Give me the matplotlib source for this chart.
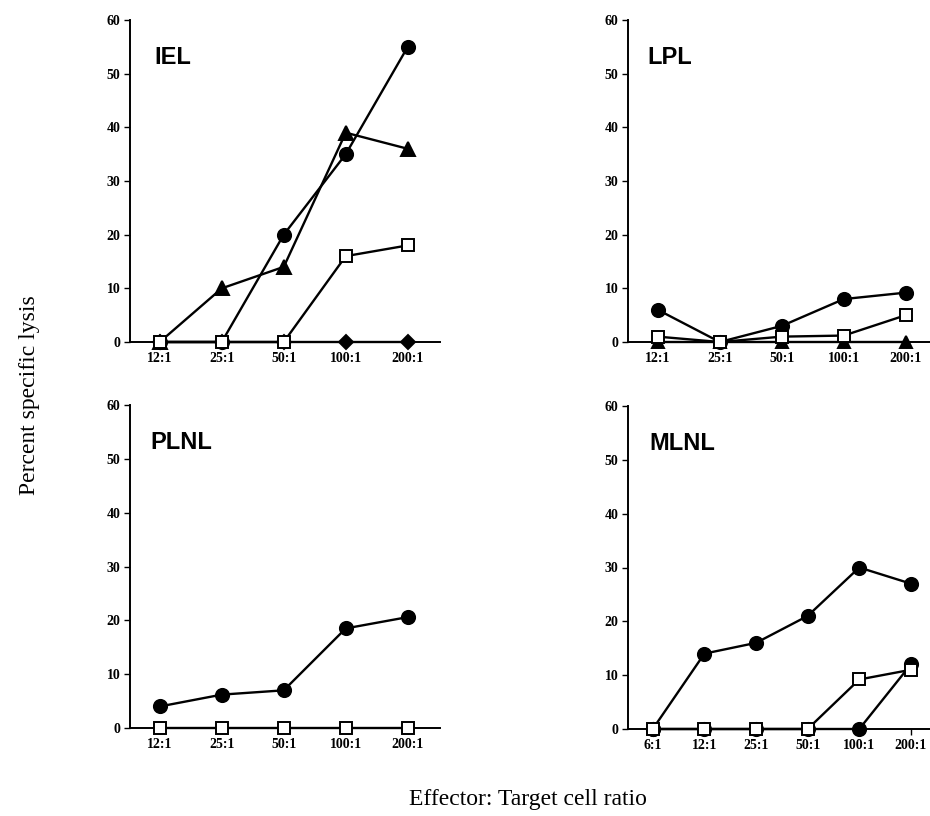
import matplotlib.pyplot as plt

# ratios on x axis
ratios = ['12:1', '25:1', '50:1', '100:1', '200:1']
ratios_mlnl = ['6:1', '12:1', '25:1', '50:1', '100:1', '200:1']

# IEL
iel_circle = [0, 0, 20, 35, 55]
iel_triangle = [0, 10, 14, 39, 36]
iel_square = [0, 0, 0, 16, 18]
iel_diamond = [0, 0, 0, 0, 0]

# LPL
lpl_circle = [6, 0, 3, 8, 9.2]
lpl_square = [1, 0, 1, 1.2, 5]
lpl_triangle = [0, 0, 0, 0, 0]

# PLNL
plnl_circle = [4, 6.2, 7, 18.5, 20.6]
plnl_square = [0, 0, 0, 0, 0]

# MLNL
mlnl_circle = [0, 14, 16, 21, 30, 27]
mlnl_circle2 = [0, 0, 0, 0, 0, 12]
mlnl_square = [0, 0, 0, 0, 9.2, 11]

serif = 'Liberation Serif'
sans = 'Liberation Sans'

fig = plt.figure(figsize=(9.3, 8.16), dpi=100)

W, H = 930.0, 816.0
def make_ax(x0, x1, ytop, ybot):
    return fig.add_axes([x0 / W, 1 - ybot / H, (x1 - x0) / W, (ybot - ytop) / H])

ax_iel = make_ax(130, 440, 20, 342)
ax_lpl = make_ax(628, 930, 20, 342)
ax_plnl = make_ax(130, 440, 405, 728)
ax_mlnl = make_ax(628, 930, 406, 729)


def draw(ax, y, marker, fill='black', ms=9):
    ax.plot(range(len(y)), y, color='black', lw=1.7, marker=marker,
            markersize=ms, markerfacecolor=fill, markeredgecolor='black',
            markeredgewidth=1.4, clip_on=False, zorder=3)


def style(ax, labels, xmax, name, tx):
    ax.set_ylim(0, 60)
    ax.set_xlim(-0.48, xmax)
    ax.set_yticks(range(0, 61, 10))
    ax.set_xticks(range(len(labels)))
    ax.set_xticklabels(labels)
    for s in ['top', 'right']:
        ax.spines[s].set_visible(False)
    ax.spines['left'].set_linewidth(1.4)
    ax.spines['bottom'].set_linewidth(1.4)
    ax.tick_params(direction='out', length=4, width=1, pad=3)
    for t in ax.get_xticklabels() + ax.get_yticklabels():
        t.set_fontfamily(serif)
        t.set_fontweight('bold')
        t.set_fontsize(10)
    ax.text(tx, 0.885, name, transform=ax.transAxes, fontfamily=sans,
            fontweight='bold', fontsize=17, va='center')


draw(ax_iel, iel_triangle, '^', ms=9.5)
draw(ax_iel, iel_circle, 'o', ms=9.5)
draw(ax_iel, iel_diamond, 'D', ms=7)
draw(ax_iel, iel_square, 's', fill='white', ms=9)
style(ax_iel, ratios, 4.52, 'IEL', 0.08)

draw(ax_lpl, lpl_triangle, '^', ms=8)
draw(ax_lpl, lpl_circle, 'o', ms=9.5)
draw(ax_lpl, lpl_square, 's', fill='white', ms=9)
style(ax_lpl, ratios, 4.39, 'LPL', 0.065)

draw(ax_plnl, plnl_circle, 'o', ms=9.5)
draw(ax_plnl, plnl_square, 's', fill='white', ms=9)
style(ax_plnl, ratios, 4.52, 'PLNL', 0.065)

draw(ax_mlnl, mlnl_circle2, 'o', ms=9.5)
draw(ax_mlnl, mlnl_circle, 'o', ms=9.5)
draw(ax_mlnl, mlnl_square, 's', fill='white', ms=9)
style(ax_mlnl, ratios_mlnl, 5.37, 'MLNL', 0.07)

fig.text(30 / W, 1 - 395 / H, 'Percent specific lysis', rotation=90,
         fontfamily=serif, fontsize=17, ha='center', va='center')
fig.text(528 / W, 1 - 800 / H, 'Effector: Target cell ratio',
         fontfamily=serif, fontsize=17, ha='center', va='center')

fig.savefig('out.png', dpi=100)
